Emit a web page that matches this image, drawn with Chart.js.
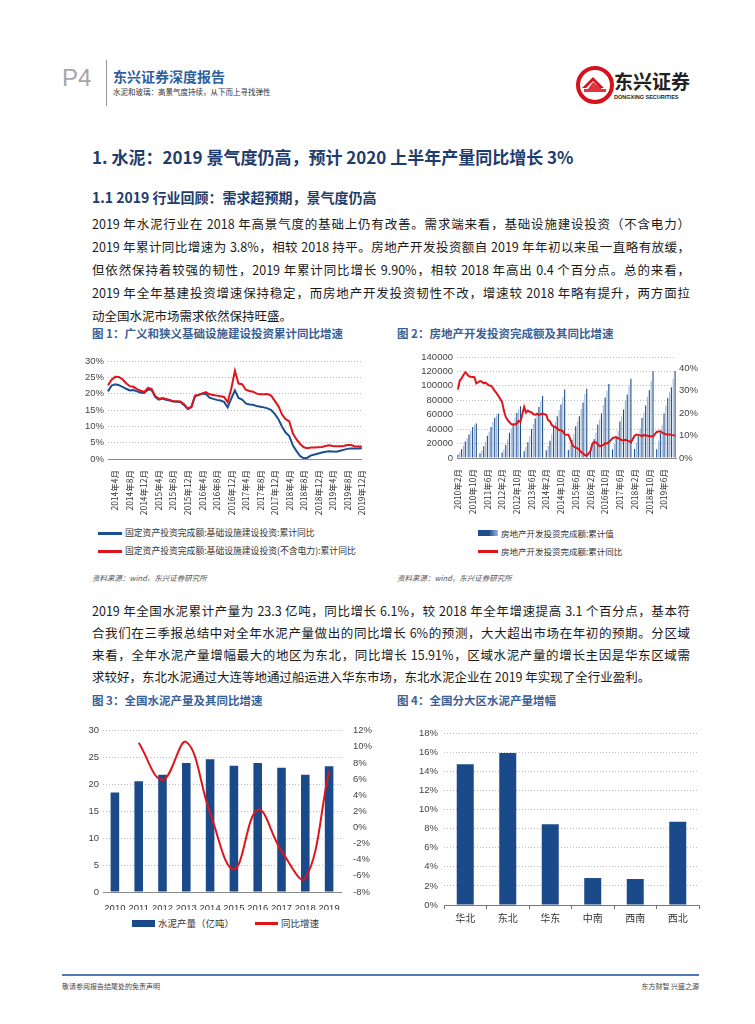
<!DOCTYPE html>
<html><head><meta charset="utf-8">
<script src="https://cdn.jsdelivr.net/npm/chart.js@4.4.0/dist/chart.umd.min.js"></script>
<style>
body{margin:0;width:755px;height:1024px;position:relative;background:#fff;font-family:"Noto Sans CJK SC",sans-serif;overflow:hidden;color:#1a1a1a}
.a{position:absolute;white-space:nowrap}
.jl{position:absolute;left:92px;width:598px;font-size:12.5px;line-height:20px;text-align:justify;text-align-last:justify}
.ll{position:absolute;left:92px;font-size:12.5px;line-height:20px;white-space:nowrap}
.ft{position:absolute;font-size:11.5px;font-weight:bold;color:#3a6196;line-height:16px;white-space:nowrap}
.src{position:absolute;font-size:7.5px;font-style:italic;color:#555;line-height:10px;white-space:nowrap}
.lg{position:absolute;font-size:9px;color:#333;line-height:12px;white-space:nowrap}
canvas{position:absolute}
</style></head><body>

<!-- header -->
<div class="a" style="left:62px;top:64px;font-family:'Liberation Sans',sans-serif;font-size:24px;color:#a6a6a6;line-height:28px">P4</div>
<div class="a" style="left:106px;top:60px;width:1px;height:46px;background:#9a9a9a"></div>
<div class="a" style="left:113px;top:68px;font-size:14px;font-weight:bold;color:#2f5e9c;line-height:16px">东兴证券深度报告</div>
<div class="a" style="left:113px;top:87px;font-size:7.5px;color:#333;line-height:10px">水泥和玻璃：高景气度持续，从下而上寻找弹性</div>
<svg class="a" style="left:574px;top:64px" width="42" height="42" viewBox="0 0 42 42">
  <circle cx="21" cy="21" r="17" fill="none" stroke="#d7111b" stroke-width="4"/>
  <path d="M8 24 L19 13 L30 24 L26 24 L19 17 L12 24 Z" fill="#d7111b"/>
  <path d="M10 28 L32 28 L32 25 L28 25 L19 18 L14 25 L10 25 Z" fill="#d7111b" opacity="0.85"/>
</svg>
<div class="a" style="left:614px;top:70px;font-size:19px;font-weight:bold;color:#222;line-height:22px;letter-spacing:0px">东兴证券</div>
<div class="a" style="left:614px;top:94px;font-family:'Liberation Sans',sans-serif;font-size:5.5px;color:#222;line-height:7px;font-weight:bold">DONGXING SECURITIES</div>

<!-- titles -->
<div class="a" style="left:92px;top:146px;font-size:17px;font-weight:bold;color:#1e3c6c;line-height:22px">1. 水泥：2019 景气度仍高，预计 2020 上半年产量同比增长 3%</div>
<div class="a" style="left:92px;top:187px;font-size:14px;font-weight:bold;color:#1e3c6c;line-height:20px">1.1 2019 行业回顾：需求超预期，景气度仍高</div>

<div class="jl" style="top:214px">2019 年水泥行业在 2018 年高景气度的基础上仍有改善。需求端来看，基础设施建设投资（不含电力）</div>
<div class="jl" style="top:237px">2019 年累计同比增速为 3.8%，相较 2018 持平。房地产开发投资额自 2019 年年初以来虽一直略有放缓，</div>
<div class="jl" style="top:260px">但依然保持着较强的韧性，2019 年累计同比增长 9.90%，相较 2018 年高出 0.4 个百分点。总的来看，</div>
<div class="jl" style="top:283px">2019 年全年基建投资增速保持稳定，而房地产开发投资韧性不改，增速较 2018 年略有提升，两方面拉</div>
<div class="ll" style="top:306px">动全国水泥市场需求依然保持旺盛。</div>

<div class="ft" style="left:92px;top:325px">图 1：广义和狭义基础设施建设投资累计同比增速</div>
<div class="ft" style="left:397px;top:325px">图 2：房地产开发投资完成额及其同比增速</div>

<canvas id="c1" width="295" height="170" style="left:80px;top:350px"></canvas>
<canvas id="c2" width="305" height="175" style="left:395px;top:345px"></canvas>

<div class="a" style="left:98px;top:532px;width:24px;height:2.5px;background:#1b4f92"></div>
<div class="lg" style="left:125px;top:527px;font-size:8.8px">固定资产投资完成额:基础设施建设投资:累计同比</div>
<div class="a" style="left:98px;top:550px;width:24px;height:2.5px;background:#e0141b"></div>
<div class="lg" style="left:125px;top:545px;font-size:8.8px">固定资产投资完成额:基础设施建设投资(不含电力):累计同比</div>

<div class="a" style="left:478px;top:530px;width:20px;height:6px;background:linear-gradient(90deg,#1f4e8c,#1f4e8c 55%,#9db8dc)"></div>
<div class="lg" style="left:501px;top:527px;font-size:8.5px">房地产开发投资完成额:累计值</div>
<div class="a" style="left:478px;top:550px;width:20px;height:2.5px;background:#e0141b"></div>
<div class="lg" style="left:501px;top:545px;font-size:8.5px">房地产开发投资完成额:累计同比</div>

<div class="src" style="left:92px;top:573px">资料来源：wind，东兴证券研究所</div>
<div class="src" style="left:397px;top:573px">资料来源：wind，东兴证券研究所</div>

<div class="jl" style="top:601px">2019 年全国水泥累计产量为 23.3 亿吨，同比增长 6.1%，较 2018 年全年增速提高 3.1 个百分点，基本符</div>
<div class="jl" style="top:623px">合我们在三季报总结中对全年水泥产量做出的同比增长 6%的预测，大大超出市场在年初的预期。分区域</div>
<div class="jl" style="top:645px">来看，全年水泥产量增幅最大的地区为东北，同比增长 15.91%，区域水泥产量的增长主因是华东区域需</div>
<div class="ll" style="top:667px">求较好，东北水泥通过大连等地通过船运进入华东市场，东北水泥企业在 2019 年实现了全行业盈利。</div>

<div class="ft" style="left:92px;top:692px">图 3：全国水泥产量及其同比增速</div>
<div class="ft" style="left:397px;top:692px">图 4：全国分大区水泥产量增幅</div>

<canvas id="c3" width="300" height="197" style="left:78px;top:713px"></canvas>
<canvas id="c4" width="302" height="207" style="left:398px;top:720px"></canvas>

<div class="a" style="left:132px;top:920px;width:23px;height:7px;background:#1a4a8a"></div>
<div class="lg" style="left:158px;top:917px;font-size:9.5px">水泥产量（亿吨）</div>
<div class="a" style="left:255px;top:922px;width:23px;height:2.5px;background:#e0141b"></div>
<div class="lg" style="left:281px;top:917px;font-size:9.5px">同比增速</div>

<!-- footer -->
<div class="a" style="left:62px;top:974px;width:637px;height:2px;background:#4f7db3"></div>
<div class="a" style="left:62px;top:981px;font-size:7px;color:#444;line-height:10px">敬请参阅报告结尾处的免责声明</div>
<div class="a" style="left:618px;top:981px;width:81px;text-align:right;font-size:7px;color:#444;line-height:10px">东方财智 兴盛之源</div>

<script>
// ---------- DATA ----------
// Figure 1: infrastructure investment YoY (%), monthly 2014-02 .. 2019-12
const infraStart = [2014, 2];
const infraBroad = [20.7,22.5,22.9,22.6,22.1,21.5,21.0,21.1,20.7,20.3,20.2,
  21.2,21.2,19.0,18.2,18.5,18.1,17.9,17.6,17.5,17.4,16.5,15.3,
  15.8,19.3,19.6,20.0,19.9,18.8,18.4,18.1,17.9,17.5,15.8,18.5,
  21.0,18.7,18.2,17.0,16.7,16.6,16.2,16.0,15.8,15.5,15.0,13.8,
  12.2,9.9,8.1,7.0,4.1,2.4,0.9,0.2,0.4,1.1,1.4,1.7,
  2.0,2.2,2.4,2.3,2.2,2.5,2.8,3.1,3.2,3.2,3.2,3.3];
const infraNarrow = [22.6,24.3,25.2,25.1,24.4,23.2,22.3,22.1,21.4,20.9,20.5,
  21.8,21.5,19.3,18.4,18.7,18.4,18.1,17.7,17.7,17.6,16.8,15.4,
  16.0,19.4,19.6,20.1,20.5,19.8,19.6,19.4,19.2,19.0,17.4,21.5,
  27.0,23.1,22.9,21.2,20.8,20.6,20.0,19.8,19.8,19.9,19.4,17.8,
  16.2,13.6,12.2,11.5,7.8,6.0,4.6,3.6,3.3,3.5,3.5,3.6,
  3.7,4.0,4.2,4.0,3.9,3.9,4.0,4.3,4.3,3.9,3.8,3.8];
const infraNames = ['固定资产投资完成额:基础设施建设投资:累计同比','固定资产投资完成额:基础设施建设投资(不含电力):累计同比'];

// Figure 2: real-estate investment, monthly 2010-02 .. 2019-12 (January not published)
const reStart = [2010, 2];
const reInvest = [4600,8300,12300,17000,23000,27600,32600,38100,43000,46000,47800,
  null,6600,10900,16400,22800,30700,36500,43000,50000,55700,59000,61700,
  null,7600,12300,18500,25500,35000,41000,48000,56000,62500,67000,71800,
  null,9300,15100,21900,30300,40100,47300,54900,63100,70600,78800,86000,
  null,10600,16700,23900,33000,43000,49700,57700,66500,74300,84600,95000,
  null,11000,17700,25000,34000,43900,50500,58000,67800,77000,88600,96000,
  null,11100,19300,26300,35200,46600,53400,62000,73100,83700,93600,102600,
  null,11900,19300,27700,37900,50600,57600,67100,79000,87900,100400,109800,
  null,12400,21300,30600,41300,55500,63000,72600,84700,93900,106300,120300,
  null,12100,23800,34200,46100,61600,72800,83000,91000,98000,110000,120500];
const reGrowth = [30.5,34.5,35.5,37.0,38.2,37.4,36.4,36.2,36.1,36.0,33.2,
  null,34.3,34.0,33.3,33.6,32.9,32.3,32.2,31.2,29.9,28.9,27.6,
  null,25.0,21.0,18.3,17.0,16.0,15.1,14.9,14.9,15.4,16.6,16.2,
  null,22.8,20.2,21.1,20.6,20.3,19.5,19.3,19.7,19.2,19.5,19.8,
  null,19.3,16.8,16.4,14.7,14.1,13.7,13.2,12.5,12.4,11.9,10.5,
  null,10.4,8.5,6.0,5.1,4.6,4.3,3.5,2.6,2.0,1.3,1.0,
  null,3.0,6.2,7.2,7.0,6.1,5.3,5.4,5.8,6.6,6.5,6.9,
  null,8.9,9.1,9.3,8.8,8.5,7.9,7.9,8.1,7.8,7.5,7.0,
  null,9.9,10.4,10.3,10.2,9.7,10.2,10.1,9.9,9.7,9.7,9.5,
  null,11.6,11.8,11.9,11.2,10.9,10.6,10.5,10.5,10.3,10.2,9.9];
const reNames = ['房地产开发投资完成额:累计值','房地产开发投资完成额:累计同比'];

// Figure 3: national cement output
const cementYears = ['2010','2011','2012','2013','2014','2015','2016','2017','2018','2019'];
const cementOutput = [18.5,20.6,21.8,24.0,24.7,23.5,24.0,23.1,21.8,23.4];
const cementGrowth = [null,10.5,5.9,10.6,1.8,-5.2,2.2,-2.9,-6.3,7.0];

// Figure 4: regional output growth 2019
const regions = ['华北','东北','华东','中南','西南','西北'];
const regionGrowth = [14.73,15.91,8.46,2.82,2.72,8.70];

// ---------- HELPERS ----------
function monthLabels(start, n){
  const out=[]; let y=start[0], m=start[1];
  for(let i=0;i<n;i++){ out.push(y+'年'+m+'月'); m++; if(m>12){m=1;y++;} }
  return out;
}
const infraMonths = monthLabels(infraStart, infraBroad.length);
const reMonths = monthLabels(reStart, reInvest.length);

const NUM = "'Liberation Sans', Arial, 'Noto Sans CJK SC', sans-serif";
const CJK = "'Noto Sans CJK SC', 'Liberation Sans', sans-serif";
Chart.defaults.font.family = NUM;
Chart.defaults.color = '#404040';
Chart.defaults.animation = false;
Chart.defaults.devicePixelRatio = 1;
Chart.defaults.plugins.legend.display = false;
Chart.defaults.plugins.tooltip.enabled = false;

const RED = '#e0141b', BLUE = '#1b4f92', BAR = '#1a4a8a';
const GRID = {color:'#bdbdbd', drawTicks:false};
const DASH = {display:false, dash:[1,2]};

// Figure 1
new Chart(document.getElementById('c1'), {
  type:'line',
  data:{labels:infraMonths, datasets:[
    {label:infraNames[1], data:infraNarrow, borderColor:RED, borderWidth:2, pointRadius:0, tension:0},
    {label:infraNames[0], data:infraBroad, borderColor:BLUE, borderWidth:2, pointRadius:0, tension:0}
  ]},
  options:{responsive:false, layout:{padding:{top:11,right:12,left:0,bottom:0}},
    scales:{
      x:{grid:{display:false}, border:{display:true,color:'#8a8a8a'},
         ticks:{autoSkip:false, minRotation:90, maxRotation:90, padding:3, font:{size:8.5,family:CJK}, color:'#333',
           callback:(v,i)=>{ const m=parseInt(infraMonths[i].split('年')[1]); return m%4===0?infraMonths[i]:''; }},
         afterFit:s=>{s.height=61;}},
      y:{min:0,max:30, ticks:{stepSize:5, padding:4, font:{size:9.5}, color:'#444', callback:v=>v+'%'},
         grid:GRID, border:DASH, afterFit:s=>{s.width=28;}}
    }}
});

// Figure 2
new Chart(document.getElementById('c2'), {
  type:'bar',
  data:{labels:reMonths, datasets:[
    {type:'line', label:reNames[1], data:reGrowth, yAxisID:'y1', borderColor:RED, borderWidth:2, pointRadius:0, spanGaps:true, order:0},
    {type:'bar', label:reNames[0], data:reInvest, yAxisID:'y', order:1,
     backgroundColor:c=> (c.dataIndex%2 ? '#9db8dc' : '#1f4e8c'), barPercentage:0.6, categoryPercentage:1}
  ]},
  options:{responsive:false, layout:{padding:{top:12,right:0,left:0,bottom:0}},
    scales:{
      x:{grid:{display:false}, border:{display:true,color:'#8a8a8a'},
         ticks:{autoSkip:false, minRotation:90, maxRotation:90, padding:3, font:{size:8.5,family:CJK}, color:'#333',
           callback:(v,i)=> i%8===0 ? reMonths[i] : ''},
         afterFit:s=>{s.height=62;}},
      y:{min:0,max:140000, ticks:{stepSize:20000, padding:4, font:{size:9.5}, color:'#444', callback:v=>String(v)},
         grid:GRID, border:DASH, afterFit:s=>{s.width=62;}},
      y1:{position:'right', min:0,max:45, ticks:{stepSize:5, padding:3, font:{size:9.5}, color:'#444', callback:v=>v+'%'},
         grid:{drawOnChartArea:false, drawTicks:false}, border:{display:false}, afterFit:s=>{s.width=24;}}
    }}
});

// Figure 3
new Chart(document.getElementById('c3'), {
  type:'bar',
  data:{labels:cementYears, datasets:[
    {type:'line', label:'同比增速', data:cementGrowth, yAxisID:'y1', borderColor:RED, borderWidth:2, pointRadius:0, tension:0.4, order:0},
    {type:'bar', label:'水泥产量（亿吨）', data:cementOutput, yAxisID:'y', backgroundColor:BAR, barPercentage:0.36, categoryPercentage:1, order:1}
  ]},
  options:{responsive:false, layout:{padding:{top:12,right:0,left:0,bottom:0}},
    scales:{
      x:{grid:{display:false}, border:{display:true,color:'#8a8a8a'},
         ticks:{autoSkip:false, minRotation:0, maxRotation:0, padding:3, font:{size:9.5}, color:'#333'}, afterFit:s=>{s.height=18;}},
      y:{min:0,max:30, ticks:{stepSize:5, padding:4, font:{size:9.5}, color:'#444'},
         grid:GRID, border:DASH, afterFit:s=>{s.width=25;}},
      y1:{position:'right', min:-8,max:12, ticks:{stepSize:2, padding:12, font:{size:9.5}, color:'#444', callback:v=>v+'%'},
         grid:{drawOnChartArea:false, drawTicks:false}, border:{display:false}, afterFit:s=>{s.width=37;}}
    }}
});

// Figure 4
new Chart(document.getElementById('c4'), {
  type:'bar',
  data:{labels:regions, datasets:[
    {label:'增幅', data:regionGrowth, backgroundColor:BAR, barPercentage:0.4, categoryPercentage:1}
  ]},
  options:{responsive:false, layout:{padding:{top:13,right:1,left:0,bottom:0}},
    scales:{
      x:{grid:{display:true, drawOnChartArea:false, drawTicks:true, tickLength:4, color:'#777'}, border:{display:true,color:'#777'},
         ticks:{padding:3, font:{size:10,family:CJK}, color:'#333'}, afterFit:s=>{s.height=22;}},
      y:{min:0,max:18, ticks:{stepSize:2, padding:6, font:{size:9.5}, color:'#444', callback:v=>v+'%'},
         grid:GRID, border:DASH, afterFit:s=>{s.width=46;}}
    }}
});
</script>
</body></html>
